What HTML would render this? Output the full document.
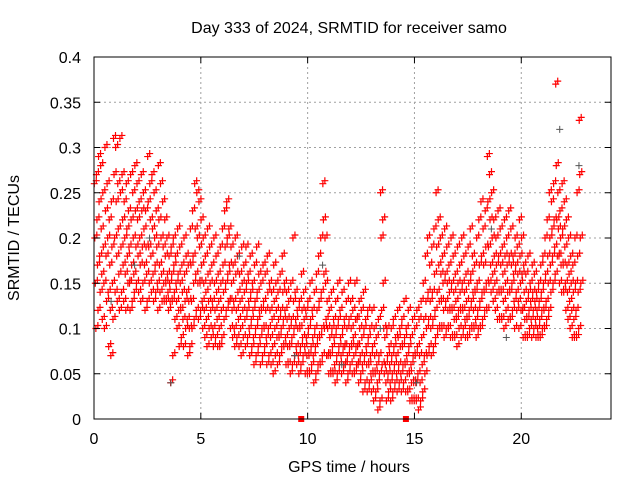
<!DOCTYPE html>
<html><head><meta charset="utf-8"><style>
body{margin:0;background:#fff;}
svg text{font-family:"Liberation Sans",sans-serif;font-size:16px;fill:#000;}
</style></head><body>
<svg id="chart" width="640" height="480" xmlns="http://www.w3.org/2000/svg">
<rect width="640" height="480" fill="#fff"/>
<g id="grid"></g>
<g id="pts"></g>
<g id="axes"></g>
<text x="349" y="33" text-anchor="middle">Day 333 of 2024, SRMTID for receiver samo</text>
<text x="349" y="472" text-anchor="middle">GPS time / hours</text>
<text transform="translate(19,238) rotate(-90)" text-anchor="middle">SRMTID / TECUs</text>
</svg>
<script>
const xTicks=[0,5,10,15,20];
const yTicks=[0,0.05,0.1,0.15,0.2,0.25,0.3,0.35,0.4];
const yTickLabels=["0","0.05","0.1","0.15","0.2","0.25","0.3","0.35","0.4"];
const binStart=0, binWidth=0.1;
const redBins=[
[.26,.2,.15,.1],[.27,.22,.17,.12],[.29,.24,.18,.14],[.28,.21,.16,.11],[.25,.19,.15,.1],[.3,.23,.18,.13],[.26,.2,.14,.08],[.22,.17,.12,.07],[.24,.19,.15,.11],[.31,.27,.2,.14],
[.3,.24,.18,.13],[.26,.21,.16,.12],[.31,.25,.19,.14],[.27,.22,.17,.13],[.24,.2,.16,.12],[.26,.21,.18,.15],[.23,.19,.15,.12],[.27,.22,.17,.13],[.25,.2,.16,.14],[.28,.23,.19,.15],
[.26,.22,.18,.14],[.24,.2,.17,.13],[.27,.23,.19,.15],[.25,.21,.17,.12],[.23,.19,.16,.13],[.29,.24,.19,.15],[.26,.22,.18,.14],[.27,.21,.16,.13],[.25,.2,.17,.14],[.23,.19,.15,.12],
[.28,.22,.17,.14],[.26,.2,.16,.13],[.24,.19,.15,.13],[.22,.18,.15,.13],[.2,.16,.14,.12],[.18,.15,.13,.04],[.19,.16,.13,.07],[.2,.17,.14,.11],[.18,.15,.13,.1],[.21,.16,.12,.08],
[.19,.15,.12,.09],[.17,.14,.11,.08],[.2,.16,.13,.1],[.18,.14,.11,.07],[.17,.13,.1,.08],[.21,.17,.13,.1],[.23,.18,.15,.11],[.26,.21,.16,.12],[.25,.2,.15,.11],[.24,.19,.15,.12],
[.22,.17,.13,.1],[.2,.15,.12,.09],[.18,.14,.11,.08],[.21,.16,.13,.1],[.19,.15,.12,.09],[.17,.13,.1,.08],[.2,.15,.12,.09],[.18,.14,.11,.08],[.16,.13,.1,.08],[.19,.15,.12,.09],
[.21,.17,.14,.11],[.23,.19,.15,.12],[.24,.2,.16,.13],[.21,.17,.13,.1],[.19,.15,.12,.09],[.17,.13,.1,.08],[.2,.16,.12,.09],[.18,.14,.11,.08],[.16,.13,.1,.07],[.19,.15,.12,.09],
[.17,.14,.11,.08],[.19,.15,.12,.09],[.16,.13,.1,.07],[.18,.14,.11,.08],[.15,.12,.09,.06],[.17,.13,.1,.07],[.19,.14,.11,.08],[.16,.12,.09,.06],[.15,.12,.1,.07],[.17,.13,.1,.08],
[.16,.12,.09,.06],[.18,.14,.1,.07],[.15,.12,.09,.06],[.14,.11,.08,.05],[.17,.13,.1,.07],[.15,.12,.09,.06],[.14,.11,.09,.07],[.16,.12,.1,.08],[.18,.14,.11,.08],[.15,.12,.09,.06],
[.14,.11,.08,.06],[.13,.1,.08,.05],[.15,.11,.09,.06],[.2,.13,.1,.07],[.14,.11,.08,.06],[.12,.1,.07,.05],[.13,.1,.08,.06],[.16,.12,.09,.07],[.14,.11,.08,.05],[.12,.09,.07,.05],
[.13,.1,.07,.05],[.15,.11,.08,.06],[.12,.09,.07,.04],[.14,.1,.08,.05],[.16,.12,.09,.06],[.18,.13,.09,.06],[.2,.14,.1,.07],[.26,.22,.16,.1],[.2,.15,.11,.07],[.13,.1,.07,.05],
[.12,.09,.07,.05],[.14,.1,.08,.05],[.11,.09,.06,.04],[.13,.1,.07,.05],[.15,.11,.08,.06],[.12,.09,.07,.05],[.14,.1,.08,.06],[.11,.08,.06,.04],[.13,.1,.07,.05],[.15,.11,.08,.06],
[.13,.1,.08,.05],[.12,.09,.07,.05],[.15,.11,.08,.06],[.11,.08,.06,.04],[.13,.1,.07,.05],[.12,.09,.06,.03],[.14,.1,.07,.04],[.11,.08,.06,.03],[.12,.09,.06,.04],[.1,.07,.05,.03],
[.12,.08,.05,.02],[.1,.07,.05,.03],[.09,.06,.04,.01],[.11,.07,.05,.02],[.25,.2,.12,.06],[.22,.15,.1,.05],[.09,.06,.04,.02],[.1,.07,.05,.03],[.08,.06,.04,.02],[.1,.07,.05,.03],
[.11,.08,.06,.04],[.09,.07,.05,.03],[.12,.09,.06,.04],[.1,.08,.05,.03],[.11,.08,.06,.04],[.13,.09,.06,.03],[.1,.07,.05,.03],[.12,.08,.05,.02],[.09,.06,.04,.02],[.11,.07,.04,.02],
[.1,.07,.04,.02],[.12,.08,.05,.01],[.11,.07,.04,.02],[.13,.09,.06,.03],[.15,.11,.07,.05],[.18,.13,.1,.07],[.2,.14,.11,.08],[.17,.13,.1,.07],[.19,.14,.11,.08],[.21,.16,.12,.09],
[.25,.19,.14,.1],[.22,.17,.13,.1],[.2,.16,.13,.1],[.18,.15,.12,.09],[.21,.16,.13,.1],[.19,.15,.12,.1],[.17,.14,.12,.09],[.2,.15,.12,.09],[.18,.14,.11,.09],[.16,.13,.11,.08],
[.19,.15,.12,.1],[.17,.14,.12,.09],[.2,.15,.12,.1],[.18,.14,.11,.09],[.16,.13,.11,.09],[.19,.15,.12,.1],[.21,.16,.13,.1],[.18,.14,.12,.1],[.17,.14,.11,.09],[.2,.15,.12,.1],
[.22,.17,.13,.1],[.24,.18,.14,.11],[.21,.17,.14,.12],[.23,.19,.15,.12],[.29,.24,.19,.15],[.27,.22,.17,.14],[.25,.2,.16,.13],[.22,.18,.15,.12],[.2,.17,.14,.11],[.23,.18,.14,.11],
[.21,.17,.14,.11],[.19,.16,.13,.1],[.22,.18,.15,.12],[.2,.17,.14,.11],[.23,.18,.14,.11],[.21,.17,.15,.12],[.18,.16,.13,.1],[.2,.17,.14,.12],[.19,.16,.13,.1],[.22,.18,.15,.12],
[.2,.16,.12,.09],[.17,.14,.11,.09],[.16,.13,.11,.09],[.18,.14,.12,.1],[.15,.13,.11,.09],[.17,.14,.12,.1],[.16,.13,.11,.09],[.14,.12,.1,.09],[.15,.13,.11,.09],[.17,.14,.12,.1],
[.18,.15,.12,.1],[.2,.16,.13,.11],[.22,.18,.15,.12],[.25,.2,.17,.14],[.24,.21,.18,.15],[.26,.22,.19,.16],[.37,.28,.22,.18],[.25,.21,.18,.15],[.23,.2,.17,.14],[.26,.21,.17,.14],
[.24,.19,.15,.12],[.22,.17,.14,.11],[.2,.16,.13,.1],[.18,.15,.12,.09],[.17,.14,.11,.09],[.2,.15,.12,.09],[.25,.18,.14,.1],[.33,.27,.2,.15]
];
const grayTimes=[0.8,1.9,2.6,3.6,6.8,9.4,10.7,11.6,13.4,15.1,18.6,19.3,21.8,22.7];
const grayValues=[0.13,0.17,0.2,0.04,0.18,0.07,0.17,0.06,0.1,0.04,0.21,0.09,0.32,0.28];
const markerTimes=[9.7,14.6];

const X0=94,X1=611,Y0=419,Y1=57,XMAX=24.2,YMAX=0.4;
const sx=t=>X0+t/XMAX*(X1-X0);
const sy=v=>Y0-v/YMAX*(Y0-Y1);
const NS="http://www.w3.org/2000/svg";
function mk(tag,attrs,parent){const e=document.createElementNS(NS,tag);for(const k in attrs)e.setAttribute(k,attrs[k]);parent.appendChild(e);return e;}
const grid=document.getElementById('grid'),axes=document.getElementById('axes'),pts=document.getElementById('pts');
yTicks.forEach((v,i)=>{
  const y=sy(v);
  if(i>0&&i<yTicks.length-1){const g=mk('line',{x1:X0,x2:X1,y1:y,y2:y,stroke:'#a0a0a0','stroke-dasharray':'2,3'},grid);
  
  }
  mk('line',{x1:X0,x2:X0+6,y1:y,y2:y,stroke:'#000'},axes);
  mk('line',{x1:X1,x2:X1-6,y1:y,y2:y,stroke:'#000'},axes);
  const t=mk('text',{x:X0-13,y:y+6,'text-anchor':'end'},axes);t.textContent=yTickLabels[i];
  
  
});
xTicks.forEach(v=>{
  const x=sx(v);
  if(v>0){const g=mk('line',{x1:x,x2:x,y1:Y0,y2:Y1,stroke:'#a0a0a0','stroke-dasharray':'2,3'},grid);
  
  }
  mk('line',{x1:x,x2:x,y1:Y0,y2:Y0-6,stroke:'#000'},axes);
  mk('line',{x1:x,x2:x,y1:Y1,y2:Y1+6,stroke:'#000'},axes);
  const t=mk('text',{x:x,y:Y0+25,'text-anchor':'middle'},axes);t.textContent=String(v);
  
  
});
const frame=mk('rect',{x:X0,y:Y1,width:X1-X0,height:Y0-Y1,fill:'none',stroke:'#000'},axes);


function plus(x,y){return 'M'+(x-3.5)+' '+y+'h7M'+x+' '+(y-3.5)+'v7';}
let gd='';
grayTimes.forEach((t,i)=>{gd+=plus(sx(t),sy(grayValues[i]));});
let rd='';
redBins.forEach((bin,i)=>{
  bin.forEach((v,j)=>{
    const t=binStart+i*binWidth+(j+0.5)*binWidth/bin.length;
    rd+=plus(sx(t),sy(v));
    rd+=plus(sx(t)+2,sy(v)-3);
  });
});
const rp=mk('path',{d:rd,stroke:'#ff0000','stroke-width':1.2,fill:'none'},pts);


const gp=mk('path',{d:gd,stroke:'#555','stroke-width':1,fill:'none'},pts);


markerTimes.forEach(t=>{
  const r=mk('rect',{x:sx(t)-3,y:Y0-3,width:6,height:6,fill:'#ff0000'},pts);
  
  
});
</script>
</body></html>
